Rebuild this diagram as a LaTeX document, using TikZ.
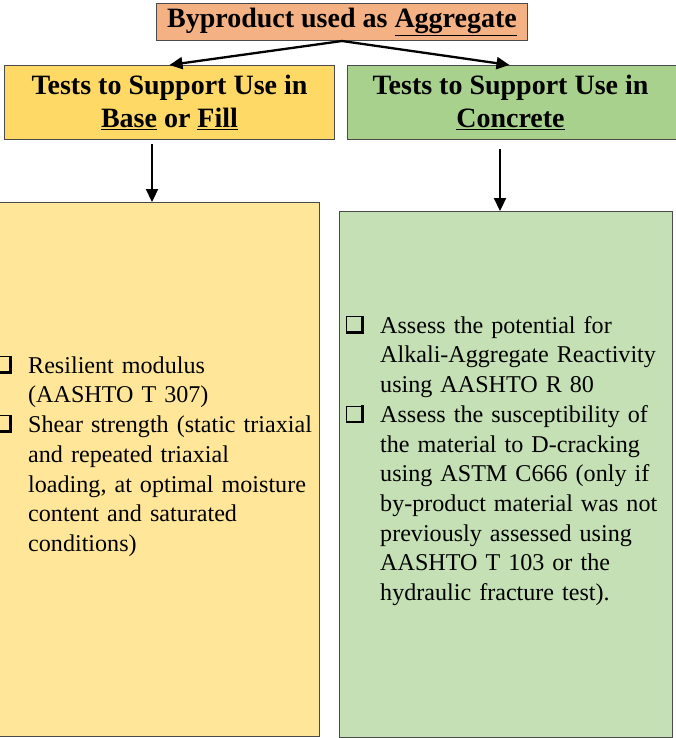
\documentclass[tikz,border=0pt]{standalone}
\usepackage{fontspec}
\setmainfont{Liberation Serif}
\usetikzlibrary{arrows.meta}

\definecolor{salmon}{HTML}{F4B183}
\definecolor{goldhead}{HTML}{FFD966}
\definecolor{greenhead}{HTML}{A9D18E}
\definecolor{goldbody}{HTML}{FFE699}
\definecolor{greenbody}{HTML}{C5E0B4}
\definecolor{edge}{HTML}{4A4A4A}

\tikzset{
  box/.style={draw=edge, line width=1pt, inner sep=0pt, anchor=north west},
  headtext/.style={font=\bfseries\fontsize{28}{32.5}\selectfont, align=center},
  bodytext/.style={font=\fontsize{24.1}{29.7}\selectfont, align=left,
    text width=300pt, inner sep=0pt, anchor=north west},
  arr/.style={line width=2.3pt, -{Triangle[length=13pt,width=12pt]}},
  chkbox/.style={draw=black, line width=1pt, fill=none, minimum width=15pt,
    minimum height=15pt, inner sep=0pt, anchor=north west},
}

% first-line strut so that a text node's top sits 20pt above its first baseline
\newcommand{\firststrut}{\rule{0pt}{20pt}}

\begin{document}
\begin{tikzpicture}[x=1pt, y=-1pt]
\useasboundingbox (0,0) rectangle (675,738);

% headings
\node[box, fill=salmon, minimum width=371pt, minimum height=37pt]
  (top) at (156,3) {};
\node[headtext] (toptxt) at (top.center) {Byproduct used as \underline{Aggregate}};

\node[box, fill=goldhead, minimum width=330pt, minimum height=74pt]
  (base) at (4,65) {};
\node[headtext] (basetxt) at (base.center) {Tests to Support Use in\\ \underline{Base} or \underline{Fill}};

\node[box, fill=greenhead, minimum width=330pt, minimum height=74pt]
  (conc) at (347,65) {};
\node[headtext] (conctxt) at ([xshift=-2pt]conc.center) {Tests to Support Use in\\ \underline{Concrete}};

% body panels
\node[box, fill=goldbody, minimum width=326pt, minimum height=534pt]
  (basebody) at (-7,202) {};
\node[box, fill=greenbody, minimum width=333pt, minimum height=526pt]
  (concbody) at (338.5,211) {};

% connectors
\draw[arr] (top.south) -- (base.north);
\draw[arr] (top.south) -- ([xshift=-3pt]conc.north);
\draw[arr, shorten <=4pt] (base.south -| 152,0) -- (basebody.north -| 152,0);
\draw[arr, shorten <=9pt] (conc.south -| 500,0) -- (concbody.north -| 500,0);

% check boxes with a heavy lower-right edge
\foreach \nm/\x/\y in {lb1/-6/356, lb2/-6/415, rb1/346/316, rb2/346/405.5}{
  \node[chkbox] (\nm) at (\x,\y) {};
  \draw[line width=2.6pt, line cap=rect]
    ([xshift=1pt,yshift=-0.3pt]\nm.south west) -- ([xshift=0.3pt,yshift=-0.3pt]\nm.south east)
    -- ([xshift=0.3pt,yshift=-1pt]\nm.north east);
}

% list texts
\node[bodytext] (basetxt2) at (28,353) {\firststrut Resilient modulus\\
(AASHTO T 307)\\
Shear strength (static triaxial\\
and repeated triaxial\\
loading, at optimal moisture\\
content and saturated\\
conditions)};

\node[bodytext] (conctxt2) at (380,313) {\firststrut Assess the potential for\\
Alkali-Aggregate Reactivity\\
using AASHTO R 80\\
Assess the susceptibility of\\
the material to D-cracking\\
using ASTM C666 (only if\\
by-product material was not\\
previously assessed using\\
AASHTO T 103 or the\\
hydraulic fracture test).};
\end{tikzpicture}
\end{document}
